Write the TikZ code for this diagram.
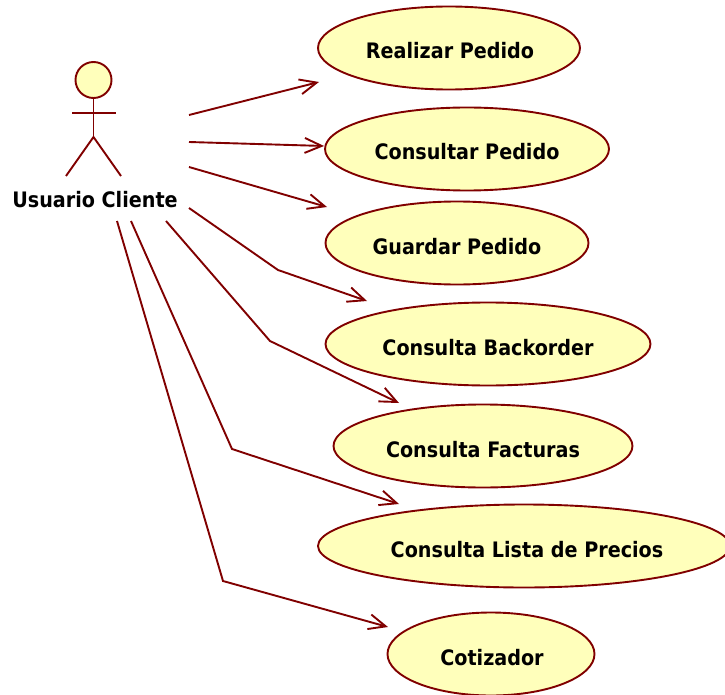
\documentclass[tikz,border=0pt]{standalone}
\usepackage{fontspec}
\setmainfont{DejaVu Sans Condensed}
\usepackage{xcolor}
\usetikzlibrary{arrows.meta,shapes.geometric}
\definecolor{umlred}{HTML}{800000}
\definecolor{umlfill}{HTML}{FFFFBB}
\tikzset{
  >={Straight Barb[length=17pt,width=15pt]},
  usecase/.style={ellipse,draw=umlred,fill=umlfill,line width=1.9pt,inner sep=0pt,
    minimum height=83pt,font=\fontsize{21.3}{21.3}\selectfont\bfseries,
    text height=22pt,text depth=0pt},
  assoc/.style={->,draw=umlred,line width=1.9pt},
  stick/.style={draw=umlred,line width=1.9pt}
}
\begin{document}
\begin{tikzpicture}[x=1pt,y=-1pt]
  \clip (0,0) rectangle (725,695);
  % actor
  \node[circle,draw=umlred,fill=umlfill,line width=1.9pt,minimum size=36pt,inner sep=0pt] (head) at (93.5,80) {};
  \coordinate (hip) at (93.5,137);
  \coordinate (armL) at (72,113);
  \coordinate (armR) at (116,113);
  \coordinate (footL) at (66,176);
  \coordinate (footR) at (121,176);
  \node[font=\fontsize{21.3}{21.3}\selectfont\bfseries,inner sep=0pt] (usuario) at (95,199.5) {Usuario Cliente};
  \draw[stick] (head.south) -- (hip);
  \draw[stick] (armL) -- (armR);
  \draw[stick] (footL) -- (hip) -- (footR);
  % use cases
  \node[usecase,minimum width=262pt] (realizar) at (449,48) {\hspace{2pt}Realizar Pedido};
  \node[usecase,minimum width=284pt] (consultar) at (467,149) {Consultar Pedido};
  \node[usecase,minimum width=263pt] (guardar) at (457,243) {Guardar Pedido};
  \node[usecase,minimum width=325pt] (backorder) at (488,344) {Consulta Backorder};
  \node[usecase,minimum width=299pt] (facturas) at (483,446) {Consulta Facturas};
  \node[usecase,minimum width=412pt] (lista) at (524,546) {\hspace{6pt}Consulta Lista de Precios};
  \node[usecase,minimum width=207pt] (cotizador) at (491,654) {\hspace{2pt}Cotizador};
  % free ends of the associations
  \coordinate (s1) at (189,115);
  \coordinate (s2) at (189,142);
  \coordinate (s3) at (189,167);
  \coordinate (s4) at (189,208);
  \coordinate (s5) at (166,221);
  \coordinate (s6) at (131,221);
  \coordinate (s7) at (117,221);
  \coordinate (e1) at (319,82);
  \coordinate (e3) at (327,207);
  \coordinate (e4) at (367,301);
  \coordinate (e5) at (399,403);
  \coordinate (e6) at (399,504);
  \coordinate (e7) at (388,627);
  \coordinate (b4) at (278,270);
  \coordinate (b5) at (270,341);
  \coordinate (b6) at (232,449);
  \coordinate (b7) at (223,581);
  % associations
  \draw[assoc] (s1) -- (e1);
  \draw[assoc] (s2) -- (consultar.west |- 0,146);
  \draw[assoc] (s3) -- (e3);
  \draw[assoc] (s4) -- (b4) -- (e4);
  \draw[assoc] (s5) -- (b5) -- (e5);
  \draw[assoc] (s6) -- (b6) -- (e6);
  \draw[assoc] (s7) -- (b7) -- (e7);
\end{tikzpicture}
\end{document}
